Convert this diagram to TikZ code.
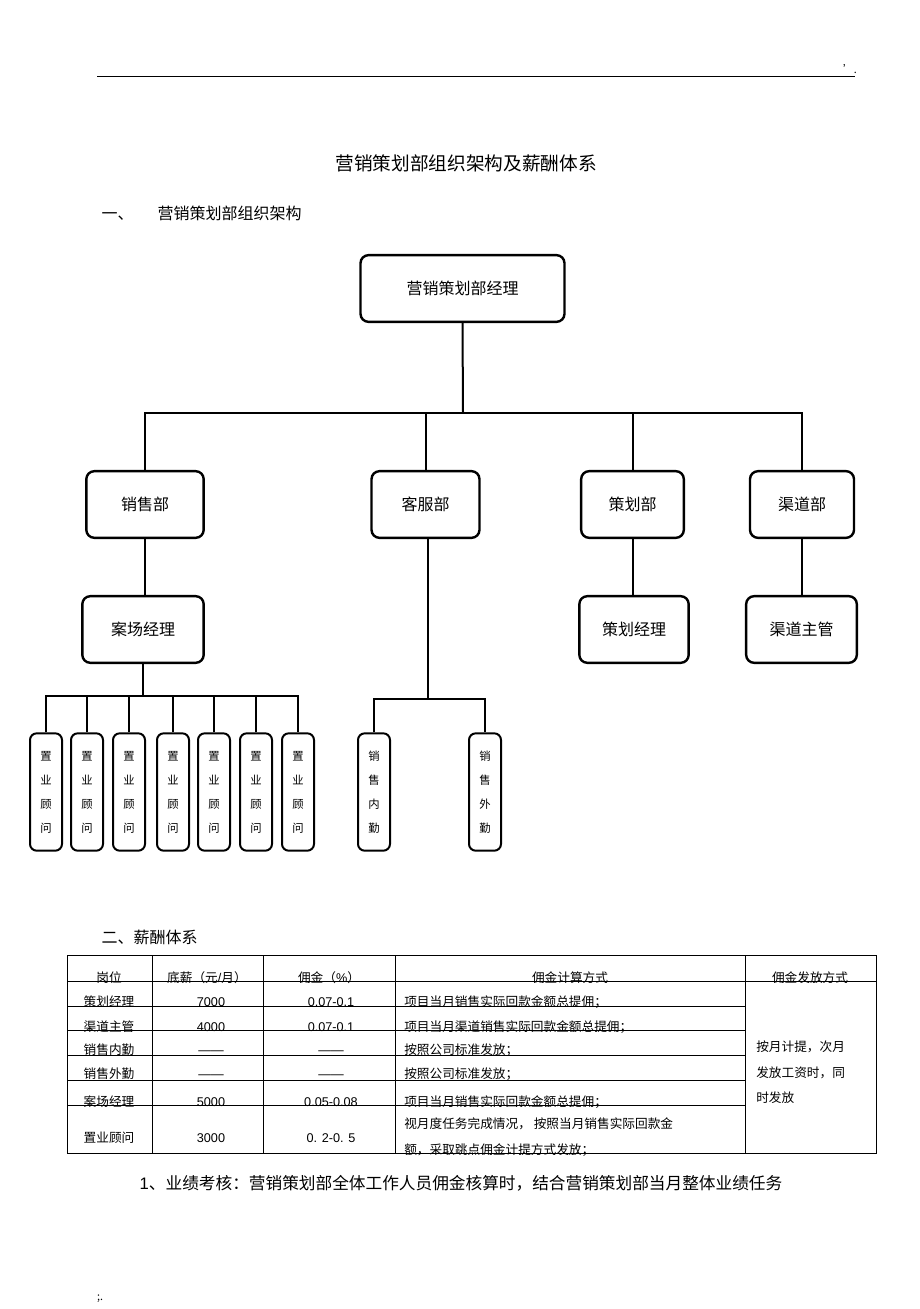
\documentclass[tikz,border=0pt]{standalone}
\usepackage{fontspec}
\setmainfont{Noto Sans CJK SC}
\newfontfamily\lat{Liberation Sans}
\begin{document}
\begin{tikzpicture}[x=0.75pt,y=-0.75pt,
  bx/.style={draw,line width=1.8pt,rounded corners=6pt,inner sep=0pt,font=\fontsize{12}{14}\selectfont},
  vb/.style={draw,line width=1.5pt,rounded corners=5pt,minimum width=24pt,minimum height=88pt,inner sep=0pt,font=\fontsize{8.5}{18}\selectfont,align=center},
  ln/.style={line width=1.5pt},
  tx/.style={font=\fontsize{9.5}{12}\selectfont,inner sep=0pt,anchor=base}]
\useasboundingbox (0,0) rectangle (920,1309);
\draw[line width=0.6pt] (97,76) -- (855,76);
\node[font=\fontsize{8}{8}\selectfont] (dot1) at (850,69) {'.};
\node[font=\fontsize{8}{8}\selectfont] (dot2) at (100,1299) {;.};
\node[font=\fontsize{14}{16}\selectfont] (title) at (466,163) {营销策划部组织架构及薪酬体系};
\node[font=\fontsize{12}{14}\selectfont,anchor=west] (s1) at (97,213) {一、\hspace{18pt}营销策划部组织架构};
% boxes
\node[bx,minimum width=153pt,minimum height=50pt] (m) at (462.5,288.5) {营销策划部经理};
\node[bx,minimum width=88pt,minimum height=50pt] (xs) at (145,504.5) {销售部};
\node[bx,minimum width=81pt,minimum height=50pt] (kf) at (425.5,504.5) {客服部};
\node[bx,minimum width=77pt,minimum height=50pt] (ch) at (632.5,504.5) {策划部};
\node[bx,minimum width=78pt,minimum height=50pt] (qd) at (802,504.5) {渠道部};
\node[bx,minimum width=91pt,minimum height=50pt] (ac) at (143,629.5) {案场经理};
\node[bx,minimum width=82pt,minimum height=50pt] (cj) at (634,629.5) {策划经理};
\node[bx,minimum width=83pt,minimum height=50pt] (qz) at (801.5,629.5) {渠道主管};
\foreach \i/\x in {1/46,2/87,3/129,4/173,5/214,6/256,7/298}
  \node[vb] (z\i) at (\x,792) {置\\业\\顾\\问};
\node[vb] (nq) at (374,792) {销\\售\\内\\勤};
\node[vb] (wq) at (485,792) {销\\售\\外\\勤};
% connectors
\coordinate (b1) at (463,413);
\draw[ln] (m.south) -- (b1);
\draw[ln] (xs.north) |- (b1) -| (qd.north);
\draw[ln] (kf.north) -- (kf.north|-b1);
\draw[ln] (ch.north) -- (ch.north|-b1);
\draw[ln] (xs.south) -- (ac.north-|xs.south);
\draw[ln] (ch.south) -- (cj.north-|ch.south);
\draw[ln] (qd.south) -- (qz.north-|qd.south);
\coordinate (b2) at (143,696);
\draw[ln] (ac.south) -- (b2);
\draw[ln] (z1.north) |- (b2) -| (z7.north);
\foreach \i in {2,...,6} \draw[ln] (z\i.north) -- (z\i.north|-b2);
\coordinate (b3) at (428,699);
\draw[ln] (kf.south-|b3) -- (b3);
\draw[ln] (nq.north) |- (b3) -| (wq.north);
% table
\node[font=\fontsize{12}{14}\selectfont,anchor=west] (s2) at (97,937) {二、薪酬体系};
\draw[line width=0.6pt] (67,955) rectangle (876,1153);
\foreach \x in {152,263,395,745} \draw[line width=0.6pt] (\x,955) -- (\x,1153);
\foreach \y in {981,1006,1030,1055,1080,1105} \draw[line width=0.6pt] (67,\y) -- (745,\y);
\draw[line width=0.6pt] (745,981) -- (876,981);
\node[tx] (h1) at (109,982) {岗位};
\node[tx] (h2) at (207,982) {底薪（元{\lat /}月）};
\node[tx] (h3) at (329,982) {佣金（{\lat \%}）};
\node[tx] (h4) at (570,982) {佣金计算方式};
\node[tx] (h5) at (810,982) {佣金发放方式};
\foreach \y/\a/\b/\c/\d in {1006/策划经理/7000/0.07-0.1/项目当月销售实际回款金额总提佣；,
  1031/渠道主管/4000/0.07-0.1/项目当月渠道销售实际回款金额总提佣；,
  1054/销售内勤/——/——/按照公司标准发放；,
  1078/销售外勤/——/——/按照公司标准发放；,
  1106/案场经理/5000/0.05-0.08/项目当月销售实际回款金额总提佣；}{
  \node[tx] at (109,\y) {\a};
  \node[tx] at (211,\y) {\lat\b};
  \node[tx] at (331,\y) {\lat\c};
  \node[tx,anchor=base west] at (404,\y) {\d};}
\node[tx] (r6) at (109,1142) {置业顾问};
\node[tx] (r6b) at (211,1142) {\lat 3000};
\node[tx] (r6c) at (331,1142) {\lat 0. 2-0. 5};
\node[tx,anchor=base west] (r6d) at (404,1128) {视月度任务完成情况，\ 按照当月销售实际回款金};
\node[tx,anchor=base west] (r6e) at (404,1154) {额，采取跳点佣金计提方式发放；};
\node[tx,anchor=north west,align=left,font=\fontsize{9.5}{19}\selectfont] (ff) at (756,1041) {按月计提，次月\\发放工资时，同\\时发放};
\node[font=\fontsize{12.5}{14}\selectfont,anchor=west] (p1) at (135,1183) {{\lat 1}、业绩考核：营销策划部全体工作人员佣金核算时，结合营销策划部当月整体业绩任务};
\end{tikzpicture}
\end{document}
